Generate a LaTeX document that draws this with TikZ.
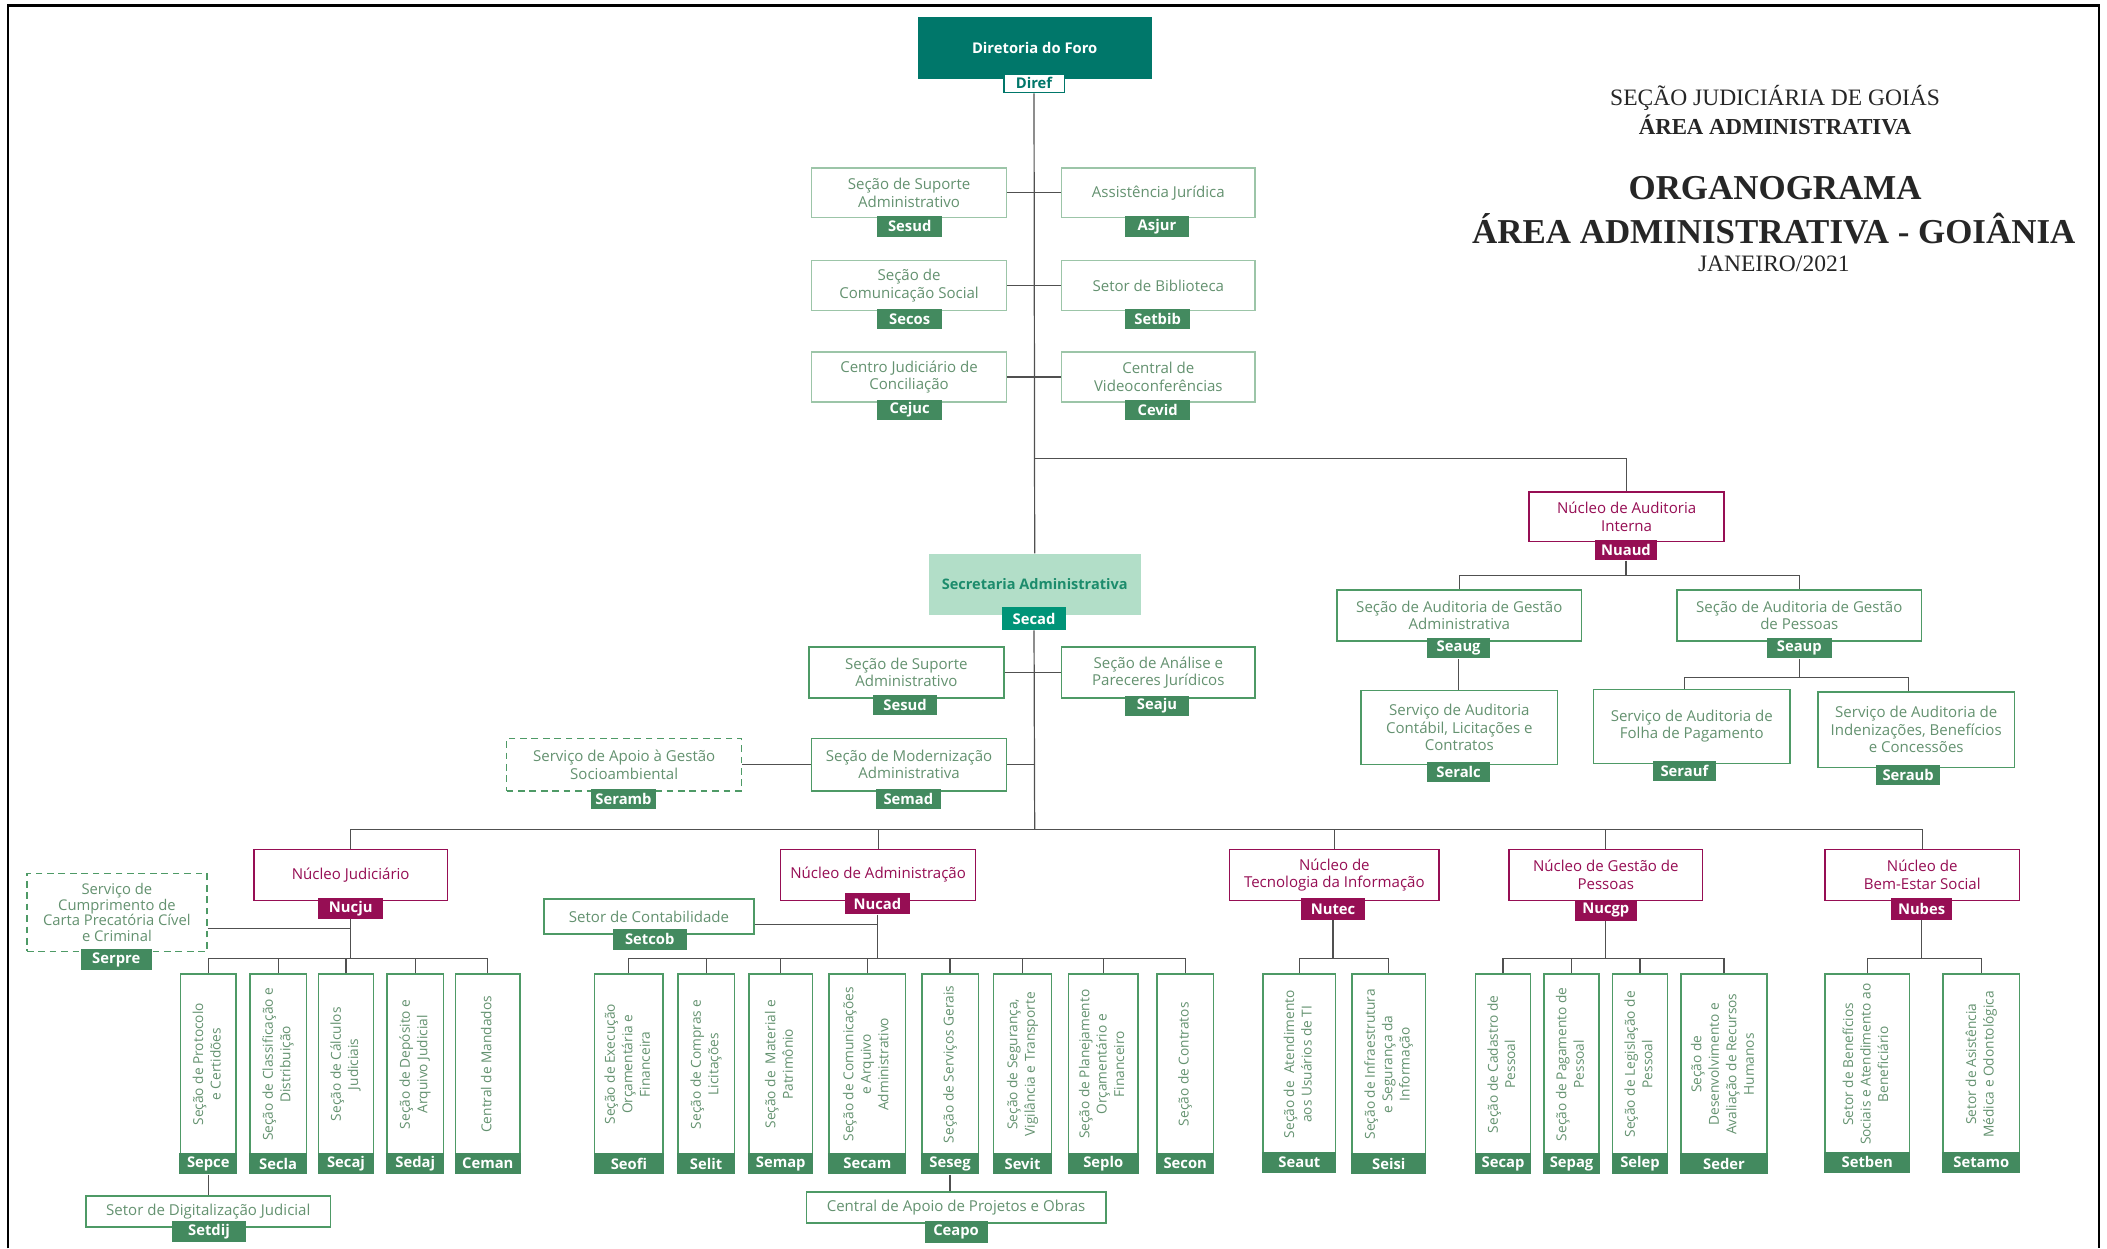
\documentclass[tikz,border=0pt]{standalone}
\usepackage{fontspec}
\setmainfont{Open Sans}
\newfontfamily\titlefont{Liberation Serif}
\usepackage{graphicx}
\usepackage{xcolor}

\definecolor{forogreen}{RGB}{0,119,106}
\definecolor{taggreen}{RGB}{67,138,95}
\definecolor{boxtext}{RGB}{100,146,112}
\definecolor{boxline}{RGB}{78,154,102}
\definecolor{paleline}{RGB}{156,197,168}
\definecolor{secadfill}{RGB}{178,222,200}
\definecolor{secadtext}{RGB}{28,140,108}
\definecolor{secadtag}{RGB}{0,148,120}
\definecolor{nucmag}{RGB}{150,14,84}
\definecolor{wiregray}{RGB}{80,80,80}

\newcommand{\vtext}[1]{\rotatebox{90}{\begin{tabular}{@{}c@{}}#1\end{tabular}}}

\begin{document}
\begin{tikzpicture}[x=1pt, y=-1pt]
    \tikzstyle{unit}=[draw=boxline, line width=1.1pt, fill=white, text=boxtext, align=center, inner sep=1pt, font=\fontsize{11.2}{13}\selectfont]
    \tikzstyle{upper}=[unit, draw=paleline]
    \tikzstyle{nucleus}=[unit, draw=nucmag, text=nucmag]
    \tikzstyle{optional}=[unit, dash pattern=on 5pt off 3.5pt]
    \tikzstyle{column}=[unit, minimum height=134pt, font=\fontsize{10.2}{13}\selectfont]
    \tikzstyle{tag}=[fill=taggreen, text=white, inner sep=0pt, minimum height=15pt, font=\bfseries\fontsize{11}{12}\selectfont]
    \tikzstyle{nuctag}=[tag, fill=nucmag]
    \tikzstyle{wire}=[draw=wiregray, line width=0.9pt]
    \tikzstyle{heading}=[inner sep=0pt, text=black!85]

    \useasboundingbox (0,0) rectangle (1568,929);
    \draw[line width=2pt] (6,929) -- (6,4) -- (1562,4) -- (1562,929);

    % title
    \node[heading, font=\titlefont\fontsize{17.5}{19}\selectfont] (sjgo) at (1321,73) {SEÇÃO JUDICIÁRIA DE GOIÁS};
    \node[heading, font=\titlefont\bfseries\fontsize{17}{19}\selectfont] (areaadm) at (1321,93) {ÁREA ADMINISTRATIVA};
    \node[heading, font=\titlefont\bfseries\fontsize{26}{28}\selectfont] (orgtitle) at (1321,140) {ORGANOGRAMA};
    \node[heading, font=\titlefont\bfseries\fontsize{26}{28}\selectfont] (orgsub) at (1320,170) {ÁREA ADMINISTRATIVA - GOIÂNIA};
    \node[heading, font=\titlefont\fontsize{17.5}{19}\selectfont] (orgdate) at (1320,196) {JANEIRO/2021};

    % Diretoria do Foro
    \node[fill=forogreen, text=white, minimum width=174pt, minimum height=46pt, font=\bfseries\fontsize{11}{12}\selectfont] (diref) at (770,36) {Diretoria do Foro};
    \node[tag, fill=white, draw=forogreen, line width=1.1pt, text=forogreen, minimum width=45pt, minimum height=14pt] (diref-t) at (769.5,62) {Diref};

    \node[upper, minimum width=145pt, minimum height=37pt] (sesud1) at (676.5,143.5) {Seção de Suporte\\Administrativo};
    \node[tag, minimum width=48pt] (sesud1-t) at (677,168.5) {Sesud};
    \node[upper, minimum width=144pt, minimum height=37pt] (asjur) at (862,143.5) {Assistência Jurídica};
    \node[tag, minimum width=48pt] (asjur-t) at (861,168.5) {Asjur};
    \node[upper, minimum width=145pt, minimum height=37pt] (secos) at (676.5,212.5) {Seção de\\Comunicação Social};
    \node[tag, minimum width=48pt] (secos-t) at (677,237.5) {Secos};
    \node[upper, minimum width=144pt, minimum height=37pt] (setbib) at (862,212.5) {Setor de Biblioteca};
    \node[tag, minimum width=48pt] (setbib-t) at (861.5,237.5) {Setbib};
    \node[upper, minimum width=145pt, minimum height=37pt] (cejuc) at (676.5,280.5) {Centro Judiciário de\\Conciliação};
    \node[tag, minimum width=48pt] (cejuc-t) at (677,305) {Cejuc};
    \node[upper, minimum width=144pt, minimum height=37pt] (cevid) at (862,280.5) {Central de\\Videoconferências};
    \node[tag, minimum width=48pt] (cevid-t) at (861.5,305) {Cevid};

    % Nucleo de Auditoria Interna
    \node[nucleus, minimum width=145pt, minimum height=37pt] (nuaud) at (1210.5,384.5) {Núcleo de Auditoria\\Interna};
    \node[nuctag, minimum width=46pt] (nuaud-t) at (1210,409.5) {Nuaud};
    \node[unit, minimum width=182pt, minimum height=38pt] (seaug) at (1086,458) {Seção de Auditoria de Gestão\\Administrativa};
    \node[tag, minimum width=47pt] (seaug-t) at (1085.5,482.5) {Seaug};
    \node[unit, minimum width=182pt, minimum height=38pt] (seaup) at (1339,458) {Seção de Auditoria de Gestão\\de Pessoas};
    \node[tag, minimum width=48pt] (seaup-t) at (1339,482.5) {Seaup};
    \node[unit, minimum width=146pt, minimum height=55pt] (seralc) at (1086,541.5) {Serviço de Auditoria\\Contábil, Licitações e\\Contratos};
    \node[tag, minimum width=47pt] (seralc-t) at (1085.5,574.5) {Seralc};
    \node[unit, minimum width=146pt, minimum height=55pt] (serauf) at (1259,540.5) {Serviço de Auditoria de\\Folha de Pagamento};
    \node[tag, minimum width=47pt] (serauf-t) at (1253.5,573.5) {Serauf};
    \node[unit, minimum width=146pt, minimum height=56pt] (seraub) at (1426,543) {Serviço de Auditoria de\\Indenizações, Benefícios\\e Concessões};
    \node[tag, minimum width=48pt] (seraub-t) at (1420,576.5) {Seraub};

    % Secretaria Administrativa
    \node[fill=secadfill, text=secadtext, minimum width=158pt, minimum height=46pt, font=\bfseries\fontsize{10.8}{12}\selectfont] (secad) at (770,435) {Secretaria Administrativa};
    \node[tag, fill=secadtag, minimum width=47pt, minimum height=17pt] (secad-t) at (769.5,460.5) {Secad};
    \node[unit, minimum width=145pt, minimum height=38pt] (sesud2) at (674.5,500.5) {Seção de Suporte\\Administrativo};
    \node[tag, minimum width=47pt] (sesud2-t) at (673.5,524.5) {Sesud};
    \node[unit, minimum width=144pt, minimum height=38pt] (seaju) at (862,500.5) {Seção de Análise e\\Pareceres Jurídicos};
    \node[tag, minimum width=48pt] (seaju-t) at (861,525.5) {Seaju};
    \node[unit, minimum width=145pt, minimum height=39pt] (semad) at (676.5,569) {Seção de Modernização\\Administrativa};
    \node[tag, minimum width=48pt] (semad-t) at (676,594.5) {Semad};
    \node[optional, minimum width=175pt, minimum height=39pt] (seramb) at (464.5,569) {Serviço de Apoio à Gestão\\Socioambiental};
    \node[tag, minimum width=48pt] (seramb-t) at (464,594.5) {Seramb};

    % nucleos
    \node[nucleus, minimum width=144pt, minimum height=38pt] (nucju) at (261,651) {Núcleo Judiciário};
    \node[nuctag, minimum width=48pt, minimum height=16pt] (nucju-t) at (261,676) {Nucju};
    \node[nucleus, minimum width=145pt, minimum height=38pt] (nucad) at (653.5,651) {Núcleo de Administração};
    \node[nuctag, minimum width=48pt, minimum height=16pt] (nucad-t) at (653,672.5) {Nucad};
    \node[nucleus, minimum width=156pt, minimum height=38pt] (nutec) at (993,651) {Núcleo de\\Tecnologia da Informação};
    \node[nuctag, minimum width=48pt, minimum height=16pt] (nutec-t) at (992,676.5) {Nutec};
    \node[nucleus, minimum width=144pt, minimum height=38pt] (nucgp) at (1195,651) {Núcleo de Gestão de\\Pessoas};
    \node[nuctag, minimum width=46pt, minimum height=16pt] (nucgp-t) at (1195,677.5) {Nucgp};
    \node[nucleus, minimum width=145pt, minimum height=38pt] (nubes) at (1430.5,651) {Núcleo de\\Bem-Estar Social};
    \node[nuctag, minimum width=46pt, minimum height=16pt] (nubes-t) at (1430,676.5) {Nubes};

    % Nucleo Judiciario
    \node[optional, minimum width=134pt, minimum height=58pt, font=\fontsize{11}{11.6}\selectfont] (serpre) at (87,679) {Serviço de\\Cumprimento de\\Carta Precatória Cível\\e Criminal};
    \node[tag, minimum width=53pt, minimum height=16pt] (serpre-t) at (86.5,714) {Serpre};
    \node[column, minimum width=41pt] (sepce) at (155,792) {\vtext{Seção de Protocolo\\e Certidões}};
    \node[tag, minimum width=43pt, minimum height=16pt] (sepce-t) at (155,866) {Sepce};
    \node[column, minimum width=42pt] (secla) at (207,792) {\vtext{Seção de Classificação e\\Distribuição}};
    \node[tag, minimum width=43pt, minimum height=16pt] (secla-t) at (207,866) {Secla};
    \node[column, minimum width=41pt] (secaj) at (257.5,792) {\vtext{Seção de Cálculos\\Judiciais}};
    \node[tag, minimum width=42pt, minimum height=16pt] (secaj-t) at (257.5,866) {Secaj};
    \node[column, minimum width=42pt] (sedaj) at (309,792) {\vtext{Seção de Depósito e\\Arquivo Judicial}};
    \node[tag, minimum width=43pt, minimum height=16pt] (sedaj-t) at (309,866) {Sedaj};
    \node[column, minimum width=48pt] (ceman) at (363,792) {\vtext{Central de Mandados}};
    \node[tag, minimum width=49pt, minimum height=16pt] (ceman-t) at (363,866) {Ceman};
    \node[unit, minimum width=182pt, minimum height=23pt] (setdij) at (155,901.5) {Setor de Digitalização Judicial};
    \node[tag, minimum width=55pt, minimum height=16pt] (setdij-t) at (155.5,916.5) {Setdij};

    % Nucleo de Administracao
    \node[unit, minimum width=156pt, minimum height=26pt] (setcob) at (483,682) {Setor de Contabilidade};
    \node[tag, minimum width=55pt, minimum height=16pt] (setcob-t) at (483.5,699) {Setcob};
    \node[column, minimum width=51pt] (seofi) at (468,792) {\vtext{Seção de Execução\\Orçamentária e\\Financeira}};
    \node[tag, minimum width=52pt, minimum height=16pt] (seofi-t) at (468,866) {Seofi};
    \node[column, minimum width=42pt] (selit) at (525.5,792) {\vtext{Seção de Compras e\\Licitações}};
    \node[tag, minimum width=43pt, minimum height=16pt] (selit-t) at (525.5,866) {Selit};
    \node[column, minimum width=47pt] (semap) at (581,792) {\vtext{Seção de~ Material e\\Patrimônio}};
    \node[tag, minimum width=48pt, minimum height=16pt] (semap-t) at (581,866) {Semap};
    \node[column, minimum width=57pt] (secam) at (645.5,792) {\vtext{Seção de Comunicações\\e Arquivo\\Administrativo}};
    \node[tag, minimum width=58pt, minimum height=16pt] (secam-t) at (645.5,866) {Secam};
    \node[column, minimum width=42pt] (seseg) at (707,792) {\vtext{Seção de Serviços Gerais}};
    \node[tag, minimum width=43pt, minimum height=16pt] (seseg-t) at (707,866) {Seseg};
    \node[column, minimum width=43pt] (sevit) at (761,792) {\vtext{Seção de Segurança,\\Vigilância e Transporte}};
    \node[tag, minimum width=44pt, minimum height=16pt] (sevit-t) at (761,866) {Sevit};
    \node[column, minimum width=52pt] (seplo) at (821,792) {\vtext{Seção de Planejamento\\Orçamentário e\\Financeiro}};
    \node[tag, minimum width=53pt, minimum height=16pt] (seplo-t) at (821,866) {Seplo};
    \node[column, minimum width=42pt] (secon) at (882,792) {\vtext{Seção de Contratos}};
    \node[tag, minimum width=43pt, minimum height=16pt] (secon-t) at (882,866) {Secon};
    \node[unit, minimum width=223pt, minimum height=23pt] (ceapo) at (711.5,898.5) {Central de Apoio de Projetos e Obras};
    \node[tag, minimum width=47pt, minimum height=16pt] (ceapo-t) at (711.5,917) {Ceapo};

    % Nucleo de Tecnologia da Informacao
    \node[column, minimum width=54pt] (seaut) at (967,792) {\vtext{Seção de~ Atendimento\\aos Usuários de TI}};
    \node[tag, minimum width=55pt, minimum height=16pt] (seaut-t) at (967,865) {Seaut};
    \node[column, minimum width=55pt] (seisi) at (1033.5,792) {\vtext{Seção de Infraestrutura\\e Segurança da\\Informação}};
    \node[tag, minimum width=56pt, minimum height=16pt] (seisi-t) at (1033.5,866) {Seisi};

    % Nucleo de Gestao de Pessoas
    \node[column, minimum width=41pt] (secap) at (1118.5,792) {\vtext{Seção de Cadastro de\\Pessoal}};
    \node[tag, minimum width=42pt, minimum height=16pt] (secap-t) at (1118.5,866) {Secap};
    \node[column, minimum width=41pt] (sepag) at (1169.5,792) {\vtext{Seção de Pagamento de\\Pessoal}};
    \node[tag, minimum width=42pt, minimum height=16pt] (sepag-t) at (1169.5,866) {Sepag};
    \node[column, minimum width=41pt] (selep) at (1220.5,792) {\vtext{Seção de Legislação de\\Pessoal}};
    \node[tag, minimum width=42pt, minimum height=16pt] (selep-t) at (1220.5,866) {Selep};
    \node[column, minimum width=64pt] (seder) at (1283,792) {\vtext{Seção de\\Desenvolvimento e\\Avaliação de Recursos\\Humanos}};
    \node[tag, minimum width=65pt, minimum height=16pt] (seder-t) at (1283,866) {Seder};

    % Nucleo de Bem-Estar Social
    \node[column, minimum width=63pt] (setben) at (1389.5,792) {\vtext{Setor de Benefícios\\Sociais e Atendimento ao\\Beneficiário}};
    \node[tag, minimum width=64pt, minimum height=16pt] (setben-t) at (1389.5,865) {Setben};
    \node[column, minimum width=57pt] (setamo) at (1474.5,792) {\vtext{Setor de Asistência\\Médica e Odontológica}};
    \node[tag, minimum width=58pt, minimum height=16pt] (setamo-t) at (1474.5,865) {Setamo};

    % connectors
    \draw[wire] (diref-t.south) -- (secad.north);
    \draw[wire] (sesud1.east) -- (asjur.west);
    \draw[wire] (secos.east) -- (setbib.west);
    \draw[wire] (cejuc.east) -- (cevid.west);
    \coordinate (audit-j) at (770,341);
    \draw[wire] (audit-j) -| (nuaud.north);
    \draw[wire] (nuaud-t.south) -- ++(0,11) coordinate (nuaud-j);
    \draw[wire] (seaug.north) |- (nuaud-j) -| (seaup.north);
    \draw[wire] (seaug-t.south) -- (seaug-t.south |- seralc.north);
    \draw[wire] (seaup-t.south) -- ++(0,14) coordinate (seaup-j);
    \draw[wire] (serauf-t |- serauf.north) |- (seaup-j) -| (seraub-t |- seraub.north);

    \draw[wire] (sesud2.east) -- (seaju.west);
    \draw[wire] (seramb.east) -- (semad.west);
    \draw[wire] (semad.east) -- (semad.east -| secad-t.south);
    \coordinate (bus) at (770,617);
    \draw[wire] (secad-t.south) -- (bus);
    \draw[wire] (nucju.north) |- (bus) -| (nubes.north);
    \foreach \n in {nucad,nutec,nucgp}
        \draw[wire] (\n.north) -- (\n.north |- bus);

    \coordinate (serpre-j) at ([yshift=-12pt]serpre.east);
    \draw[wire] (serpre-j) -- (serpre-j -| nucju-t.south);
    \coordinate (nucju-j) at ([yshift=11pt]sepce.north);
    \draw[wire] (nucju-t.south) -- (nucju-t.south |- nucju-j);
    \draw[wire] (sepce.north) -- (nucju-j) -| (ceman.north);
    \foreach \n in {secla,secaj,sedaj}
        \draw[wire] (\n.north) -- (\n.north |- nucju-j);
    \draw[wire] (sepce-t.south) -- (sepce-t.south |- setdij.north);

    \coordinate (setcob-j) at ([yshift=-6pt]setcob.east);
    \draw[wire] (setcob-j) -- (setcob-j -| nucad-t.south);
    \coordinate (nucad-j) at ([yshift=11pt]seofi.north);
    \draw[wire] (nucad-t.south) -- (nucad-t.south |- nucad-j);
    \draw[wire] (seofi.north) -- (nucad-j) -| (secon.north);
    \foreach \n in {selit,semap,secam,seseg,sevit,seplo}
        \draw[wire] (\n.north) -- (\n.north |- nucad-j);
    \draw[wire] (seseg-t.south) -- (seseg-t.south |- ceapo.north);

    \coordinate (nutec-j) at ([yshift=11pt]seaut.north);
    \draw[wire] (nutec-t.south) -- (nutec-t.south |- nutec-j);
    \draw[wire] (seaut.north) -- (nutec-j) -| (seisi.north);

    \coordinate (nucgp-j) at ([yshift=11pt]secap.north);
    \draw[wire] (nucgp-t.south) -- (nucgp-t.south |- nucgp-j);
    \draw[wire] (secap.north) -- (nucgp-j) -| (seder.north);
    \foreach \n in {sepag,selep}
        \draw[wire] (\n.north) -- (\n.north |- nucgp-j);

    \coordinate (nubes-j) at ([yshift=11pt]setben.north);
    \draw[wire] (nubes-t.south) -- (nubes-t.south |- nubes-j);
    \draw[wire] (setben.north) -- (nubes-j) -| (setamo.north);
\end{tikzpicture}
\end{document}
